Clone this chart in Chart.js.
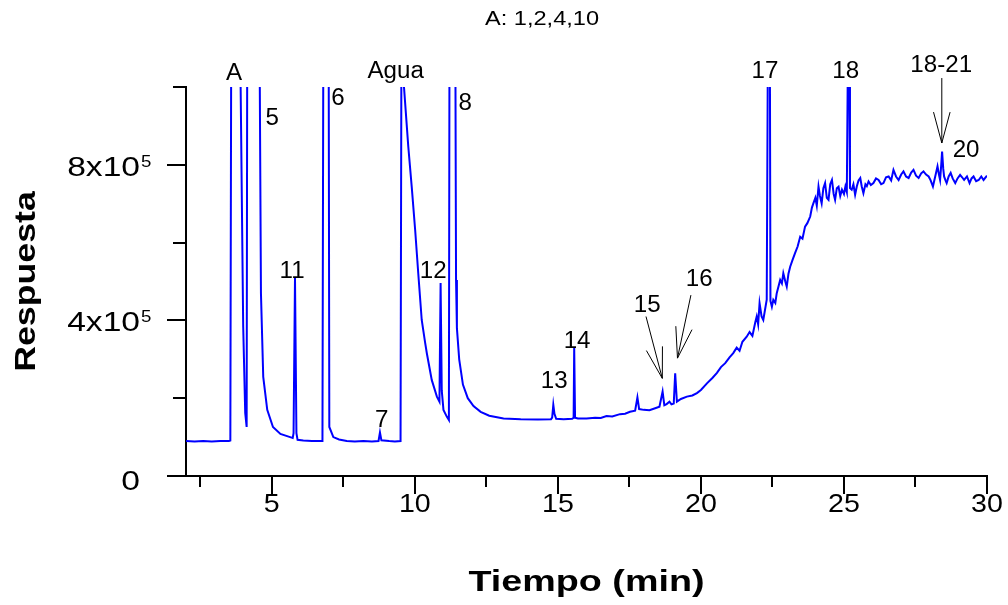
<!DOCTYPE html>
<html>
<head>
<meta charset="utf-8">
<script src="https://cdn.jsdelivr.net/npm/chart.js@4"></script>
<style>
  html, body { margin: 0; padding: 0; background: #fff; }
  #wrap { width: 1008px; height: 605px; }
</style>
</head>
<body>
<div id="wrap"><canvas id="chrom" width="1008" height="605"></canvas></div>
<script>
// --- Data ---
// tiempo in min, respuesta in units of 10^3 (off-scale peaks are clipped at 10^6)
const tiempo = [
  2.0, 2.3, 2.6, 2.9, 3.2, 3.5, 3.55,
  3.58, 3.88, 3.91, 4.0, 4.07, 4.12,
  4.14, 4.56, 4.58, 4.62, 4.70, 4.84, 5.04, 5.3, 5.64, 5.73,
  5.76, 5.81, 5.86, 5.90, 6.1, 6.4, 6.77,
  6.80, 6.97, 6.99, 7.01, 7.15, 7.35, 7.62,
  7.9, 8.2, 8.5, 8.73, 8.78, 8.83, 9.1, 9.3, 9.50,
  9.53, 9.60, 9.62, 9.77, 9.89, 10.01, 10.12, 10.24, 10.36, 10.42, 10.59, 10.77, 10.86,
  10.90, 10.94, 11.0, 11.12, 11.19,
  11.21, 11.40, 11.42, 11.44, 11.47, 11.55, 11.68, 11.85, 12.05, 12.3, 12.6, 13.1, 13.7, 14.3, 14.76,
  14.80, 14.84, 14.88, 14.94, 15.2, 15.5,
  15.55, 15.57, 15.60, 15.7,
  16.0, 16.3, 16.5, 16.7, 16.9, 17.17, 17.35, 17.52, 17.7,
  17.78, 17.84, 18.0, 18.2, 18.4, 18.55,
  18.66, 18.72, 18.80, 18.90, 18.97, 19.05,
  19.10, 19.16, 19.3, 19.51, 19.7, 19.86, 20.0, 20.21, 20.4, 20.56, 20.7, 20.85, 21.0, 21.13,
  21.25, 21.35, 21.45, 21.6, 21.7, 21.8, 21.9, 21.95, 22.0, 22.05, 22.12, 22.18, 22.30,
  22.34, 22.41, 22.43, 22.48, 22.53, 22.6, 22.65, 22.72, 22.77, 22.83, 22.88, 22.95, 23.0, 23.06,
  23.12, 23.2, 23.29, 23.38, 23.47, 23.55, 23.64, 23.72, 23.82, 23.88, 23.93, 24.0, 24.05, 24.11,
  24.16, 24.22, 24.28, 24.34, 24.40, 24.46, 24.52, 24.58, 24.64, 24.69, 24.75, 24.81, 24.87, 24.93,
  25.0, 25.05, 25.10,
  25.14, 25.18, 25.21, 25.27, 25.33, 25.39, 25.45, 25.51, 25.57, 25.62, 25.68, 25.75, 25.80, 25.86,
  25.94, 26.03, 26.12, 26.21, 26.3, 26.38, 26.47, 26.56, 26.65, 26.73, 26.82, 26.91, 27.0, 27.08,
  27.17, 27.26, 27.35, 27.43, 27.52, 27.61, 27.7, 27.78, 27.87, 27.96, 28.03, 28.11, 28.19, 28.27,
  28.32, 28.36, 28.40, 28.43, 28.47, 28.50, 28.55, 28.59, 28.66, 28.73, 28.8, 28.89, 28.97, 29.06,
  29.13, 29.20, 29.3, 29.39, 29.46, 29.53, 29.62, 29.71, 29.8, 29.88, 30.0
];
const respuesta = [
  90, 89, 90, 89, 90, 90, 91,
  1100, 1100, 1000, 383, 162, 126,
  1100, 1100, 1000, 470, 255, 170, 126, 108, 100, 98,
  110, 509, 110, 93, 91, 90, 90,
  1100, 1100, 1000, 126, 100, 94, 90,
  89, 90, 89, 90, 112, 92, 90, 89, 90,
  1100, 1100, 1000, 847, 744, 633, 520, 401, 342, 315, 247, 204, 191,
  496, 220, 170, 152, 144,
  1100, 1100, 1000, 504, 380, 300, 235, 200, 180, 165, 155, 148, 146, 145, 146,
  150, 183, 160, 147, 146, 147,
  150, 330, 150, 148,
  148, 150, 149, 154, 153, 159, 160, 165, 168,
  202, 172, 170, 169, 174, 178,
  217, 182, 185, 191, 184, 186,
  264, 191, 198, 204, 207, 213, 221, 238, 252, 265, 280, 290, 305, 316,
  330, 322, 345, 358, 370, 360, 395, 410, 390, 444, 410, 401, 453,
  1100, 1100, 450, 435, 453, 445, 470, 490, 504, 495, 521, 500, 487, 520,
  538, 555, 573, 590, 615, 610, 641, 650, 667, 690, 701, 715, 695, 744,
  720, 701, 740, 753, 715, 710, 750, 761, 725, 710, 740, 744, 720, 736,
  725, 744, 730,
  1100, 1100, 740, 736, 750, 723, 745, 760, 766, 745, 727, 750, 745, 757,
  748, 753, 765, 761, 750, 753, 768, 770, 760, 787, 770, 761, 775, 783,
  770, 766, 780, 787, 772, 766, 778, 783, 775, 770, 760, 744, 770, 796,
  775, 761, 800, 834, 790, 770, 760, 753, 770, 779, 765, 753, 765, 774,
  768, 761, 770, 753, 765, 770, 758, 761, 770, 761, 772
];

// axis ticks
const xMajor = [5, 10, 15, 20, 25, 30];
const xMinor = [2.5, 7.5, 12.5, 17.5, 22.5, 27.5];
const yMajor = [0, 400, 800];
const yMinor = [200, 600, 1000];
const yLabels = [['0', ''], ['4x10', '5'], ['8x10', '5']];

// peak labels: text, tiempo, respuesta (baseline-centre of the text)
const peakText = ['A', '5', '6', 'Agua', '8', '11', '7', '12', '13', '14', '15', '16', '17', '18', '18-21', '20'];
const peakT = [3.68, 5.01, 7.31, 9.33, 11.76, 5.71, 8.84, 10.64, 14.87, 15.67, 18.12, 19.94, 22.24, 25.06, 28.40, 29.27];
const peakR = [1018, 903, 954, 1024, 941, 509, 126, 509, 226, 329, 422, 489, 1024, 1024, 1039, 820];

// arrows: from (t1, r1) to tip (t2, r2)
const arrowFrom = [[18.08, 410], [19.65, 465], [28.42, 1023]];
const arrowTip = [[18.65, 251], [19.18, 303], [28.42, 856]];

const TITLE = 'A: 1,2,4,10';
const FONT = "'Liberation Sans', Arial, sans-serif";

// --- Text helper (horizontally stretched text like the original figure) ---
function drawText(ctx, str, x, y, font, align, sx) {
  ctx.save();
  ctx.font = font;
  ctx.textAlign = 'left';
  ctx.textBaseline = 'alphabetic';
  const w = ctx.measureText(str).width * sx;
  const left = align === 'center' ? x - w / 2 : align === 'right' ? x - w : x;
  ctx.translate(left, y);
  ctx.scale(sx, 1);
  ctx.fillText(str, 0, 0);
  ctx.restore();
}

// --- Plugin: ticks, tick labels, titles, peak annotations ---
const decorPlugin = {
  id: 'decor',
  afterDraw(chart) {
    const ctx = chart.ctx;
    const xs = chart.scales.x, ys = chart.scales.y;
    const area = chart.chartArea;
    ctx.save();
    ctx.fillStyle = '#000';
    ctx.strokeStyle = '#000';

    // tick marks
    ctx.lineWidth = 2;
    ctx.beginPath();
    xMajor.forEach(v => { const p = Math.round(xs.getPixelForValue(v)); ctx.moveTo(p, area.bottom); ctx.lineTo(p, area.bottom + 18); });
    xMinor.forEach(v => { const p = Math.round(xs.getPixelForValue(v)); ctx.moveTo(p, area.bottom); ctx.lineTo(p, area.bottom + 11); });
    yMajor.forEach(v => { const p = Math.round(ys.getPixelForValue(v)); ctx.moveTo(area.left, p); ctx.lineTo(area.left - 19, p); });
    yMinor.forEach(v => { const p = Math.round(ys.getPixelForValue(v)); ctx.moveTo(area.left, p); ctx.lineTo(area.left - 13, p); });
    ctx.stroke();

    // x tick labels
    xMajor.forEach(v => {
      drawText(ctx, String(v), xs.getPixelForValue(v), area.bottom + 36, '26px ' + FONT, 'center', 1.1);
    });
    // y tick labels with superscript exponent
    yMajor.forEach((v, i) => {
      const p = ys.getPixelForValue(v);
      const [base, exp] = yLabels[i];
      const right = area.left - 46;
      drawText(ctx, base, right, p + (exp ? 11 : 14), '28px ' + FONT, 'right', 1.2);
      if (exp) drawText(ctx, exp, right + 1, p + 2, '17px ' + FONT, 'left', 1.1);
    });

    // axis titles
    drawText(ctx, 'Tiempo (min)', (area.left + area.right) / 2, 591, 'bold 29px ' + FONT, 'center', 1.3);
    ctx.save();
    ctx.translate(35, (area.top + area.bottom) / 2);
    ctx.rotate(-Math.PI / 2);
    drawText(ctx, 'Respuesta', 0, 0, 'bold 30px ' + FONT, 'center', 1.19);
    ctx.restore();

    // title
    drawText(ctx, TITLE, 542, 25, '20px ' + FONT, 'center', 1.18);

    // peak labels
    peakText.forEach((t, i) => {
      drawText(ctx, t, xs.getPixelForValue(peakT[i]), ys.getPixelForValue(peakR[i]), '23px ' + FONT, 'center', 1.05);
    });

    // arrows
    ctx.lineWidth = 1;
    arrowFrom.forEach((f, i) => {
      const x1 = xs.getPixelForValue(f[0]), y1 = ys.getPixelForValue(f[1]);
      const x2 = xs.getPixelForValue(arrowTip[i][0]), y2 = ys.getPixelForValue(arrowTip[i][1]);
      const ang = Math.atan2(y2 - y1, x2 - x1);
      const len = 32, spread = Math.PI / 12;
      ctx.beginPath();
      ctx.moveTo(x1, y1);
      ctx.lineTo(x2, y2);
      ctx.moveTo(x2 - len * Math.cos(ang - spread), y2 - len * Math.sin(ang - spread));
      ctx.lineTo(x2, y2);
      ctx.lineTo(x2 - len * Math.cos(ang + spread), y2 - len * Math.sin(ang + spread));
      ctx.stroke();
    });
    ctx.restore();
  }
};

// --- Chart ---
window.addEventListener('DOMContentLoaded', () => {
  const ctx = document.getElementById('chrom').getContext('2d');
  const points = tiempo.map((t, i) => ({ x: t, y: respuesta[i] }));

  new Chart(ctx, {
    type: 'line',
    data: {
      datasets: [{
        label: 'Respuesta',
        data: points,
        borderColor: '#0000ff',
        borderWidth: 2,
        pointRadius: 0,
        tension: 0,
        fill: false,
        clip: 0
      }]
    },
    options: {
      responsive: false,
      animation: false,
      devicePixelRatio: 1,
      layout: { padding: { top: 87, right: 21, left: 0, bottom: 0 } },
      plugins: {
        legend: { display: false },
        tooltip: { enabled: false },
        title: { display: false }
      },
      scales: {
        x: {
          type: 'linear',
          min: 2,
          max: 30,
          grid: { display: false },
          border: { display: true, color: '#000', width: 2 },
          ticks: { display: false },
          afterFit: s => { s.height = 129; }
        },
        y: {
          min: 0,
          max: 1000,
          grid: { display: false },
          border: { display: true, color: '#000', width: 2 },
          ticks: { display: false },
          afterFit: s => { s.width = 186; }
        }
      }
    },
    plugins: [decorPlugin]
  });
});
</script>
</body>
</html>
